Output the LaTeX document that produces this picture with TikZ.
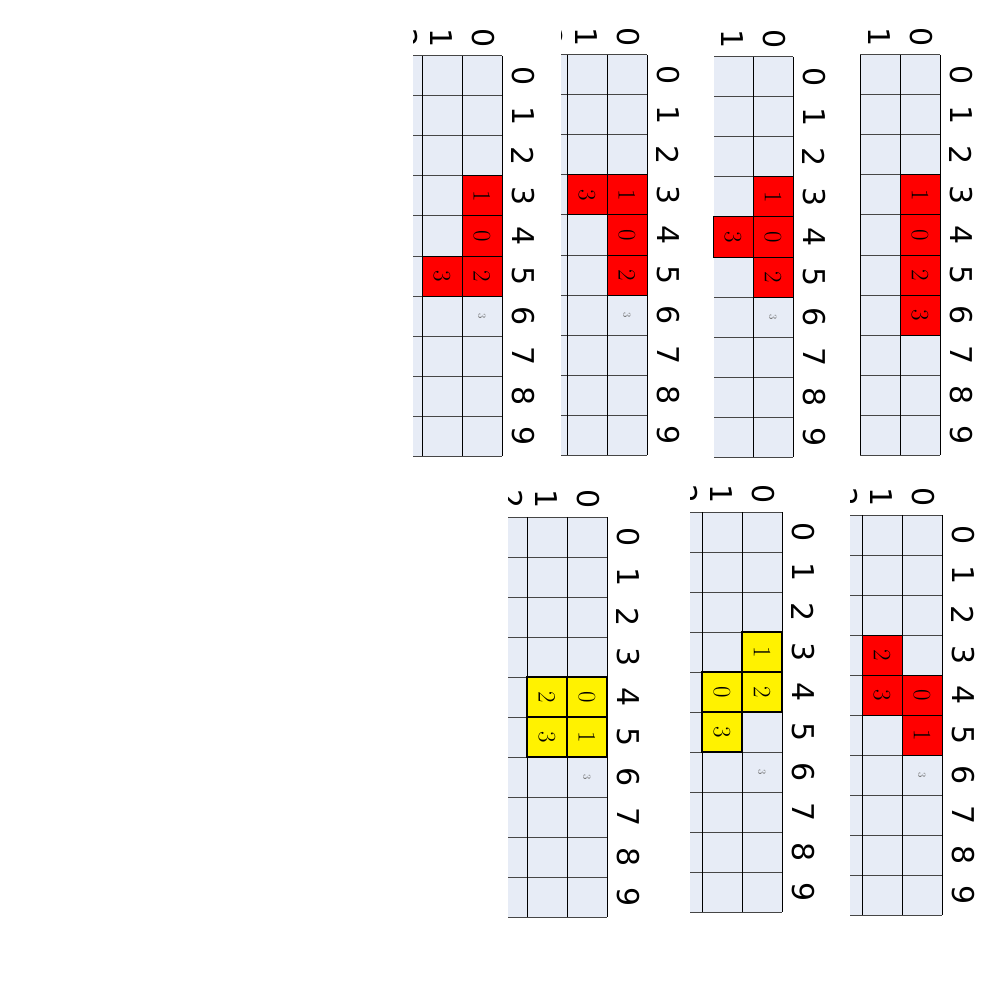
\documentclass[tikz,border=0pt]{standalone}
\usepackage{fontspec}
\newfontfamily\lblfont{DejaVu Sans}
\definecolor{cellbg}{RGB}{231,236,246}
\definecolor{hl}{RGB}{70,70,70}
\tikzset{
  lbl/.style={font=\lblfont\fontsize{30}{30}\selectfont, rotate=-90, inner sep=0pt},
  celltxt/.style={font=\fontsize{25}{25}\selectfont, rotate=-90, inner sep=0pt},
  smalltxt/.style={font=\fontsize{11}{11}\selectfont, rotate=-90, inner sep=0pt, text=black!60},
  hgrid/.style={draw=hl, line width=1pt},
  vgrid/.style={draw=black, line width=1pt},
  redcell/.style={fill=red, draw=black, line width=1pt},
  yelcell/.style={fill=yellow, draw=black, line width=1.5pt},
}
\newcommand\tcell[7]{% name R T c r style text
  \draw[#6] ({#2-40*#4-40},{#3+40*#5}) rectangle ({#2-40*#4},{#3+40*#5+40});
  \node[celltxt] (#1) at ({#2-40*#4-20},{#3+40*#5+20}) {#7};
}
\begin{document}
\begin{tikzpicture}[x=1pt,y=-1pt]
\fill[white] (0,0) rectangle (1000,1000);
\useasboundingbox (0,0) rectangle (1000,1000);
\foreach \n/\R/\T/\L in {1/940/55/860, 2/793/57/714, 3/647/55/561, 4/502/56/413, 5/942/515/850, 6/782/512/690, 7/607/517/508}{
  \begin{scope}
    \clip (\L,0) rectangle (1000,1000);
    \fill[cellbg] ({\R-120},\T) rectangle (\R,{\T+400});
    \foreach \k in {0,...,10} \draw[hgrid] ({\R-120},{\T+40*\k}) -- (\R,{\T+40*\k});
    \foreach \c in {0,1,2} \draw[vgrid] ({\R-40*\c},\T) -- ({\R-40*\c},{\T+400});
    \node[lbl] (p\n-c0) at ({\R-19},{\T-18}) {0};
    \node[lbl] (p\n-c1) at ({\R-61},{\T-18}) {1};
    \node[lbl] (p\n-c2) at ({\R-95},{\T-18}) {2};
  \end{scope}
  \foreach \r in {0,...,9} \node[lbl] (p\n-r\r) at ({\R+21},{\T+40*\r+20}) {\r};
}
% small 3 marks
\foreach \n/\R/\T in {2/793/57, 3/647/55, 4/502/56, 5/942/515, 6/782/512, 7/607/517}
  \node[smalltxt] (s\n) at ({\R-20},{\T+260}) {3};
% panel 1
\tcell{a1}{940}{55}{0}{3}{redcell}{1}
\tcell{a2}{940}{55}{0}{4}{redcell}{0}
\tcell{a3}{940}{55}{0}{5}{redcell}{2}
\tcell{a4}{940}{55}{0}{6}{redcell}{3}
% panel 2
\tcell{b1}{793}{57}{0}{3}{redcell}{1}
\tcell{b2}{793}{57}{0}{4}{redcell}{0}
\tcell{b3}{793}{57}{0}{5}{redcell}{2}
\tcell{b4}{793}{57}{1}{4}{redcell}{3}
% panel 3
\tcell{c1}{647}{55}{0}{3}{redcell}{1}
\tcell{c2}{647}{55}{0}{4}{redcell}{0}
\tcell{c3}{647}{55}{0}{5}{redcell}{2}
\tcell{c4}{647}{55}{1}{3}{redcell}{3}
% panel 4
\tcell{d1}{502}{56}{0}{3}{redcell}{1}
\tcell{d2}{502}{56}{0}{4}{redcell}{0}
\tcell{d3}{502}{56}{0}{5}{redcell}{2}
\tcell{d4}{502}{56}{1}{5}{redcell}{3}
% panel 5
\tcell{e1}{942}{515}{1}{3}{redcell}{2}
\tcell{e2}{942}{515}{1}{4}{redcell}{3}
\tcell{e3}{942}{515}{0}{4}{redcell}{0}
\tcell{e4}{942}{515}{0}{5}{redcell}{1}
% panel 6
\tcell{f1}{782}{512}{0}{3}{yelcell}{1}
\tcell{f2}{782}{512}{0}{4}{yelcell}{2}
\tcell{f3}{782}{512}{1}{4}{yelcell}{0}
\tcell{f4}{782}{512}{1}{5}{yelcell}{3}
% panel 7
\tcell{g1}{607}{517}{0}{4}{yelcell}{0}
\tcell{g2}{607}{517}{0}{5}{yelcell}{1}
\tcell{g3}{607}{517}{1}{4}{yelcell}{2}
\tcell{g4}{607}{517}{1}{5}{yelcell}{3}
\end{tikzpicture}
\end{document}
